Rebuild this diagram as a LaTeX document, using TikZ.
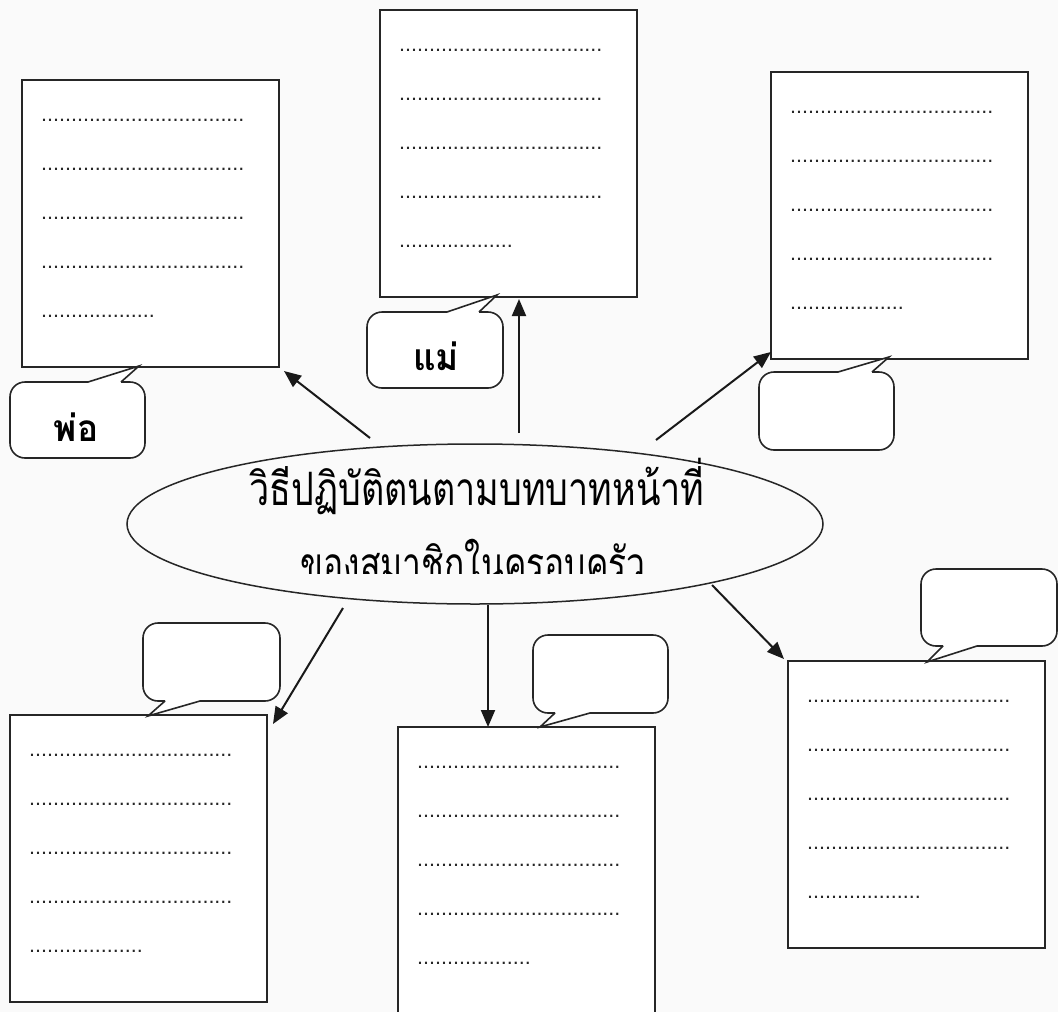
\documentclass[tikz,border=0pt]{standalone}
\usepackage{fontspec}
\setmainfont{Liberation Sans}
\newfontfamily\thaifont[Script=Thai]{Loma}
\usetikzlibrary{arrows.meta,shapes.geometric}
\newcommand\speechtop[8]{% L T R B A tipx tipy Bx
  \fill[white,rounded corners=15] (#1,#2) rectangle (#3,#4);
  \fill[white] (#5,#2) -- (#6,#7) -- (#8,#2) -- cycle;
  \draw[bubbleline,rounded corners=15] (#5,#2) -- (#1,#2) -- (#1,#4) -- (#3,#4) -- (#3,#2) -- (#8,#2);
  \draw[bubbleline] (#5,#2) -- (#6,#7) -- (#8,#2);}
\newcommand\speechbot[8]{% L T R B A tipx tipy Bx
  \fill[white,rounded corners=15] (#1,#2) rectangle (#3,#4);
  \fill[white] (#5,#4) -- (#6,#7) -- (#8,#4) -- cycle;
  \draw[bubbleline,rounded corners=15] (#5,#4) -- (#1,#4) -- (#1,#2) -- (#3,#2) -- (#3,#4) -- (#8,#4);
  \draw[bubbleline] (#5,#4) -- (#6,#7) -- (#8,#4);}
\begin{document}
\begin{tikzpicture}[x=1pt,y=-1pt,
  box/.style={draw=black!85, line width=1.8pt, fill=white, anchor=north west,
    minimum width=257pt, minimum height=287pt, inner sep=0pt, outer sep=0pt},
  dotline/.style={anchor=base west, inner sep=0pt, font=\fontsize{21.5}{26}\selectfont, text=black!85},
  bubbleline/.style={draw=black!85, line width=1.6pt, line join=miter},
  arr/.style={line width=2pt, draw=black!90, -{Triangle[length=17pt,width=14pt]}},
  big/.style={font=\thaifont\fontsize{46}{54}\selectfont, inner sep=0pt, anchor=base},
  lbl/.style={font=\thaifont\bfseries\fontsize{37}{44}\selectfont, inner sep=0pt, anchor=base}]
\fill[black!2] (0,0) rectangle (1058,1012);
\useasboundingbox (0,0) rectangle (1058,1012);
% boxes
\node[box] (b1) at (22,80) {};
\node[box] (b2) at (380,10) {};
\node[box] (b3) at (771,72) {};
\node[box] (b4) at (10,715) {};
\node[box] (b5) at (398,727) {};
\node[box] (b6) at (788,661) {};
\def\longdots{..................................}
\def\shortdots{...................}
\foreach \b/\x/\y in {b1/22/80, b2/380/10, b3/771/72, b4/10/715, b5/398/727, b6/788/661}{
  \foreach \i in {0,1,2,3}{
    \node[dotline] (\b d\i) at (\x+19,\y+41+49.2*\i) {\longdots};
  }
  \node[dotline] (\b d4) at (\x+19,\y+41+49.2*4) {\shortdots};
}
% bubbles
\speechtop{10}{382}{145}{458}{88}{139}{366}{121}
\node[lbl] (pa) at (76,441) {\scalebox{0.95}[1]{พ่อ}};
\speechtop{367}{312}{503}{388}{447}{497}{295}{479}
\node[lbl] (mae) at (436,370) {\scalebox{0.95}[1]{แม่}};
\speechtop{759}{372}{894}{450}{838}{889}{357}{872}
\speechbot{143}{623}{280}{701}{165}{148}{716}{200}
\speechbot{533}{635}{668}{713}{555}{540}{727}{590}
\speechbot{921}{569}{1057}{646}{943}{927}{662}{977}
% ellipse
\node[ellipse, draw=black!85, line width=1.5pt, minimum width=696pt, minimum height=160pt, inner sep=0pt] (c) at (475,524) {};
\node[big] (t1) at (477,505) {\scalebox{0.78}[1]{วิธีปฏิบัติตนตามบทบาทหน้าที่}};
\begin{scope}
  \clip (200,520) rectangle (750,573);
  \node[big] (t2) at (473,580) {\scalebox{0.73}[1]{ของสมาชิกในครอบครัว}};
\end{scope}
% arrows
\coordinate (a1s) at (370,438); \coordinate (a1e) at (284,371);
\coordinate (a2s) at (519,433); \coordinate (a2e) at (519,299);
\coordinate (a3s) at (656,440); \coordinate (a3e) at (771,352);
\coordinate (a4s) at (343,608); \coordinate (a4e) at (273,724);
\coordinate (a5s) at (488,605); \coordinate (a5e) at (488,727);
\coordinate (a6s) at (712,585); \coordinate (a6e) at (784,659);
\foreach \i in {1,...,6}{\draw[arr] (a\i s) -- (a\i e);}
\end{tikzpicture}
\end{document}
